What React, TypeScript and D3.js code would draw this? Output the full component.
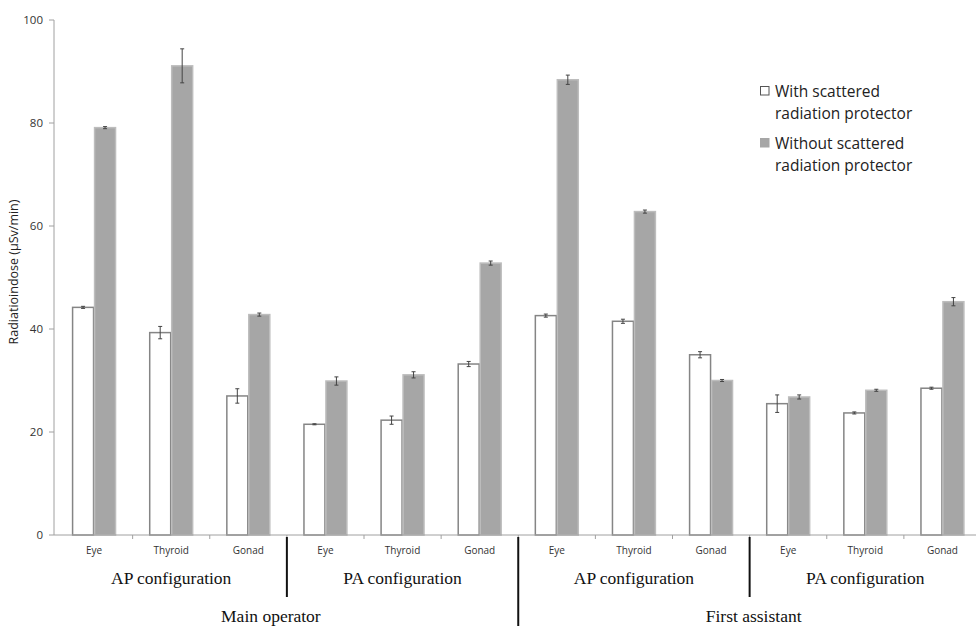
import * as d3 from "d3";

const width = 976;
const height = 626;
const margin = { top: 20, right: 0, bottom: 91, left: 55 };
const innerWidth = 981 - margin.left;
const innerHeight = height - margin.top - margin.bottom;

// data
const organs = ["Eye", "Thyroid", "Gonad"];
const configs = ["AP configuration", "PA configuration", "AP configuration", "PA configuration"];
const persons = ["Main operator", "First assistant"];
const series = ["With scattered radiation protector", "Without scattered radiation protector"];

const withProtector = [44.2, 39.3, 27.0, 21.5, 22.3, 33.2, 42.6, 41.5, 35.0, 25.5, 23.7, 28.5];
const withoutProtector = [79.1, 91.1, 42.8, 29.9, 31.1, 52.8, 88.4, 62.8, 30.0, 26.8, 28.1, 45.3];
const withErr = [0.2, 1.2, 1.4, 0.1, 0.8, 0.5, 0.3, 0.4, 0.6, 1.7, 0.2, 0.2];
const withoutErr = [0.2, 3.3, 0.3, 0.8, 0.6, 0.4, 0.9, 0.3, 0.2, 0.4, 0.2, 0.8];
const yTicks = [0, 20, 40, 60, 80, 100];

const categories = d3.range(12).map(String);

export default function App() {
  const x = d3.scaleBand().domain(categories).range([0.5, innerWidth]).padding(0);
  const xInner = d3.scaleBand().domain(["0", "1"]).range([0, x.bandwidth()]).paddingInner(0).paddingOuter(0.755);
  const y = d3.scaleLinear().domain([0, 100]).range([innerHeight, 0]);

  const vals = [withProtector, withoutProtector];
  const errs = [withErr, withoutErr];
  const fills = ["#ffffff", "#a6a6a6"];
  const strokes = ["#858585", "#bdbdbd"];

  const sans = "'Open Sans', sans-serif";
  const serif = "'Liberation Serif', 'Times New Roman', serif";

  // small nudges for the person labels, as in the original
  const personDx = [-16, 4];

  return (
    <svg width={width} height={height} style={{ position: "absolute", left: 0, top: 0, background: "#fff" }}>
      <g transform={`translate(${margin.left},${margin.top})`}>
        {/* y axis */}
        <line x1={-1} x2={-1} y1={0} y2={innerHeight} stroke="#a0a0a0" />
        {yTicks.map((t) => (
          <g key={t} transform={`translate(0,${y(t)})`}>
            <line x1={-6} x2={-1} stroke="#a0a0a0" />
            <text x={-12} dy="0.35em" textAnchor="end" fontSize={11.5} fontFamily={sans} fill="#333">
              {t}
            </text>
          </g>
        ))}
        <text
          transform={`translate(${-37},${252}) rotate(-90)`}
          textAnchor="middle"
          fontSize={12.5}
          fontFamily={sans}
          fill="#222"
        >
          Radiatioindose (µSv/min)
        </text>

        {/* bars */}
        {categories.map((c, i) => (
          <g key={c} transform={`translate(${x(c)},0)`}>
            {[0, 1].map((s) => {
              const bx = xInner(String(s))!;
              const v = vals[s][i];
              const e = errs[s][i];
              const cx = bx + xInner.bandwidth() / 2;
              return (
                <g key={s}>
                  <rect
                    x={bx + 0.5}
                    y={y(v)}
                    width={xInner.bandwidth() - 1}
                    height={innerHeight - y(v)}
                    fill={fills[s]}
                    stroke={strokes[s]}
                    strokeWidth={1.5}
                  />
                  <line x1={cx} x2={cx} y1={y(v + e)} y2={y(v - e)} stroke="#444" strokeWidth={1} />
                  <line x1={cx - 2} x2={cx + 2} y1={y(v + e)} y2={y(v + e)} stroke="#444" strokeWidth={1} />
                  <line x1={cx - 2} x2={cx + 2} y1={y(v - e)} y2={y(v - e)} stroke="#444" strokeWidth={1} />
                </g>
              );
            })}
          </g>
        ))}

        {/* x axis */}
        <line x1={-1} x2={innerWidth} y1={innerHeight} y2={innerHeight} stroke="#a0a0a0" />
        {categories.map((c, i) => (
          <g key={c}>
            <line
              x1={x(c)! + x.bandwidth()}
              x2={x(c)! + x.bandwidth()}
              y1={innerHeight}
              y2={innerHeight + 4}
              stroke="#a0a0a0"
            />
            <text
              x={x(c)! + x.bandwidth() / 2}
              y={innerHeight + 19}
              textAnchor="middle"
              fontSize={10}
              fontFamily={sans}
              fill="#333"
            >
              {organs[i % 3]}
            </text>
          </g>
        ))}

        {configs.map((cfg, k) => {
          const x0 = x(categories[k * 3])!;
          const x1 = x(categories[k * 3 + 2])! + x.bandwidth();
          return (
            <text
              key={k}
              x={(x0 + x1) / 2}
              y={innerHeight + 49}
              textAnchor="middle"
              fontSize={17.5}
              fontFamily={serif}
              fill="#111"
            >
              {cfg}
            </text>
          );
        })}
        {persons.map((p, k) => {
          const x0 = x(categories[k * 6])!;
          const x1 = x(categories[k * 6 + 5])! + x.bandwidth();
          return (
            <text
              key={p}
              x={(x0 + x1) / 2 + personDx[k]}
              y={innerHeight + 87}
              textAnchor="middle"
              fontSize={17.5}
              fontFamily={serif}
              fill="#111"
            >
              {p}
            </text>
          );
        })}

        {/* separators */}
        {[3, 9].map((k) => (
          <line
            key={k}
            x1={x(categories[k])!}
            x2={x(categories[k])!}
            y1={innerHeight + 2}
            y2={innerHeight + 62}
            stroke="#111"
            strokeWidth={2}
          />
        ))}
        <line
          x1={x(categories[6])!}
          x2={x(categories[6])!}
          y1={innerHeight + 2}
          y2={height - margin.top}
          stroke="#111"
          strokeWidth={2}
        />

        {/* legend */}
        {series.map((s, k) => {
          const words = s.split(" ");
          const line1 = words.slice(0, 2).join(" ");
          const line2 = words.slice(2).join(" ");
          const ly = 77 + k * 52;
          return (
            <g key={s} transform={`translate(${705},${ly})`}>
              <rect
                x={0.5}
                y={-10.5}
                width={8.5}
                height={8.5}
                fill={fills[k]}
                stroke={k === 0 ? "#555" : "#a6a6a6"}
              />
              <text x={15} y={0} fontSize={15.5} fontFamily={sans} fill="#222">
                {line1}
              </text>
              <text x={15} y={22} fontSize={15.5} fontFamily={sans} fill="#222">
                {line2}
              </text>
            </g>
          );
        })}
      </g>
    </svg>
  );
}
